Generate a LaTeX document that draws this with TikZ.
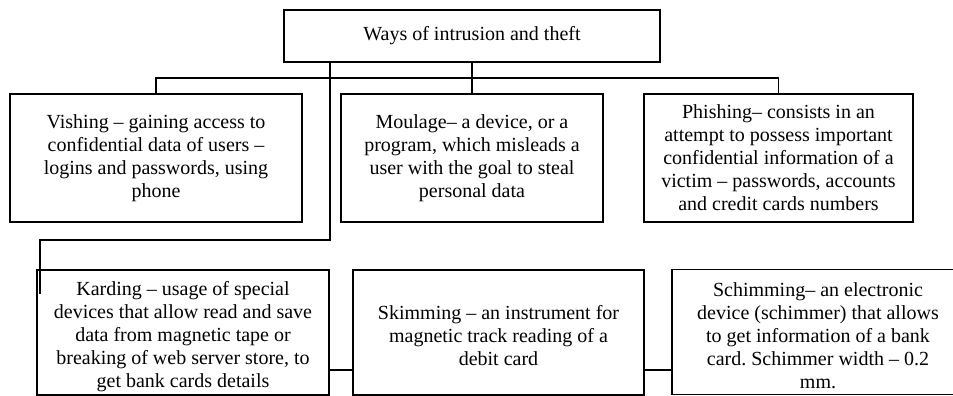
\documentclass[tikz,border=0pt]{standalone}
\usepackage{fontspec}
\setmainfont{Liberation Serif}
\usetikzlibrary{calc,positioning}
\tikzset{
scheme/.style={
x=1pt, y=-1pt,
line width=1.7pt,
every node/.style={font=\fontsize{20}{23}\selectfont, align=center, inner sep=0pt},
box/.style={draw, rectangle, minimum height=128pt},
lowbox/.style={draw, rectangle, minimum height=125pt},}}
\begin{document}
\frenchspacing
\begin{tikzpicture}[scheme]
\useasboundingbox (0,0) rectangle (953,396);
\clip (0,0) rectangle (953,396);
\node[draw, minimum width=376pt, minimum height=52pt] (ways) at (472,36) {Ways of intrusion and theft};
\node[box, minimum width=292pt] (vish) at (156,158) {Vishing -- gaining access to\\confidential data of users --\\logins and passwords, using\\phone};
\node[box, minimum width=262pt] (moul) at (472,158) {Moulage-- a device, or a\\program, which misleads a\\user with the goal to steal\\personal data};
\node[box, minimum width=269pt] (phish) at (778.5,158) {Phishing-- consists in an\\attempt to possess important\\confidential information of a\\victim -- passwords, accounts\\and credit cards numbers};
\node[lowbox, minimum width=292pt] (kard) at (183,332.5) {};
\node[lowbox, minimum width=291pt] (skim) at (498.5,332.5) {};
\node[lowbox, minimum width=292pt] (schim) at (818,332) {};
%
\node (kardtxt) at ([yshift=-4pt]kard.center) {Karding -- usage of special\\devices that allow read and save\\data from magnetic tape or\\breaking of web server store, to\\get bank cards details};
\node (skimtxt) at ([yshift=-3pt]skim.center) {Skimming -- an instrument for\\magnetic track reading of a\\debit card};
\node (schimtxt) at ([yshift=-4pt]schim.center) {Schimming-- an electronic\\device (schimmer) that allows\\to get information of a bank\\card. Schimmer width -- 0.2\\mm.};
%
\coordinate (bus) at (0,78);
\coordinate (turn) at (40,240);
\coordinate (tail) at (40,294);
\coordinate (low) at (0,370);
%
\draw (vish.north) |- (bus -| phish.north) -- (phish.north);
\draw (ways.south) -- (moul.north);
\draw (ways.south -| kard.east) |- (turn) -- (tail);
\draw (kard.east |- low) -- (skim.west |- low);
\draw (skim.east |- low) -- (schim.west |- low);
\end{tikzpicture}
\end{document}
